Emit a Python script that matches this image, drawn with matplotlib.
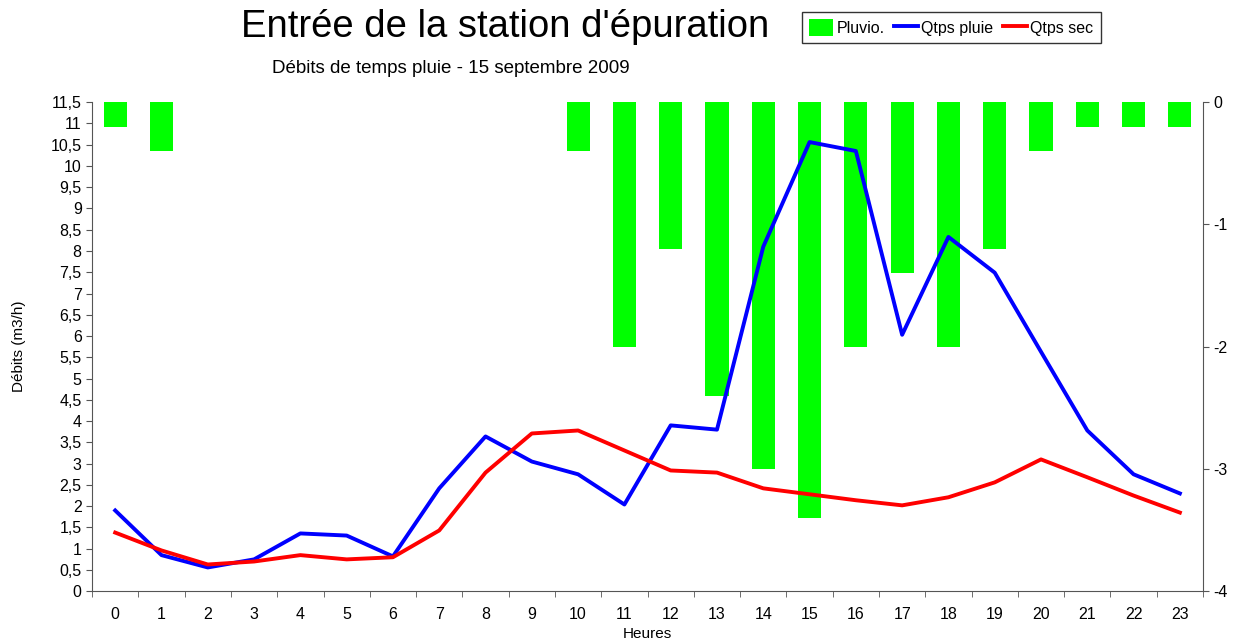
import numpy as np
import matplotlib.pyplot as plt
from matplotlib.ticker import FixedLocator, NullFormatter

plt.rcParams['font.family'] = ['Liberation Sans', 'DejaVu Sans']
plt.rcParams['axes.unicode_minus'] = False

# -----------------------------
# Data
# -----------------------------
heures = list(range(24))
pluvio = [-0.2, -0.4, 0, 0, 0, 0, 0, 0, 0, 0, -0.4, -2.0,
          -1.2, -2.4, -3.0, -3.4, -2.0, -1.4, -2.0, -1.2, -0.4, -0.2, -0.2, -0.2]
qtps_pluie = [1.90, 0.85, 0.56, 0.75, 1.36, 1.31, 0.82, 2.42, 3.64, 3.05, 2.75, 2.04,
              3.90, 3.80, 8.10, 10.56, 10.35, 6.03, 8.33, 7.49, 5.63, 3.78, 2.75, 2.30]
qtps_sec = [1.38, 0.96, 0.63, 0.70, 0.85, 0.75, 0.80, 1.43, 2.79, 3.71, 3.78, 3.31,
            2.84, 2.79, 2.42, 2.28, 2.14, 2.02, 2.21, 2.56, 3.10, 2.68, 2.25, 1.85]
yticks_left = np.arange(0, 11.51, 0.5)
ytick_labels = [f"{v:g}".replace(".", ",") for v in yticks_left]
yticks_right = [-4, -3, -2, -1, 0]

fig = plt.figure(figsize=(12.34, 6.42), dpi=100)
ax = fig.add_axes([0.0746, 0.079, 0.9003, 0.762])
ax2 = ax.twinx()

# rainfall bars hanging from 0 on the right axis
bars = ax2.bar(heures, pluvio, width=0.5, color="#00ff00", label="Pluvio.")
ax2.set_ylim(-4, 0)
ax2.set_yticks(yticks_right)
ax2.tick_params(axis="y", direction="out", length=4, labelsize=11.5, color="#555555")

# lines on the left axis, drawn above the bars
ax.set_zorder(ax2.get_zorder() + 1)
ax.patch.set_visible(False)
l1, = ax.plot(heures, qtps_pluie, color="#0000ff", lw=2.8, label="Qtps pluie")
l2, = ax.plot(heures, qtps_sec, color="#ff0000", lw=2.8, label="Qtps sec")

ax.set_xlim(-0.5, 23.5)
ax.set_ylim(0, 11.5)
ax.set_yticks(yticks_left)
ax.set_yticklabels(ytick_labels)
ax.set_xticks(heures)
ax.xaxis.set_minor_locator(FixedLocator(np.arange(-0.5, 24, 1)))
ax.xaxis.set_minor_formatter(NullFormatter())
ax.tick_params(axis="x", which="major", length=0, labelsize=11.5, pad=11)
ax.tick_params(axis="x", which="minor", length=4, direction="out", color="#555555")
ax.tick_params(axis="y", direction="out", length=4, labelsize=11.5, color="#555555")

for a in (ax, ax2):
    a.spines["top"].set_visible(False)
    for s in ("left", "right", "bottom"):
        a.spines[s].set_color("#555555")
ax2.spines["left"].set_visible(False)
ax2.spines["bottom"].set_visible(False)
ax.spines["right"].set_visible(False)

ax.set_xlabel("Heures", fontsize=11, labelpad=4)
ax.set_ylabel("Débits (m3/h)", fontsize=11, labelpad=18)

fig.text(0.409, 0.958, "Entrée de la station d'épuration", fontsize=27.5, ha="center", va="center")
fig.text(0.365, 0.894, "Débits de temps pluie - 15 septembre 2009", fontsize=13.5, ha="center", va="center")

leg = fig.legend([bars, l1, l2], ["Pluvio.", "Qtps pluie", "Qtps sec"],
                 loc="center", bbox_to_anchor=(0.771, 0.957), ncol=3, fontsize=11.5,
                 frameon=True, fancybox=False, edgecolor="black", handlelength=1.5,
                 handletextpad=0.2, columnspacing=0.6, borderpad=0.45,
                 handleheight=1.2)
leg.get_frame().set_linewidth(1.0)

fig.savefig("out.png", dpi=100)
